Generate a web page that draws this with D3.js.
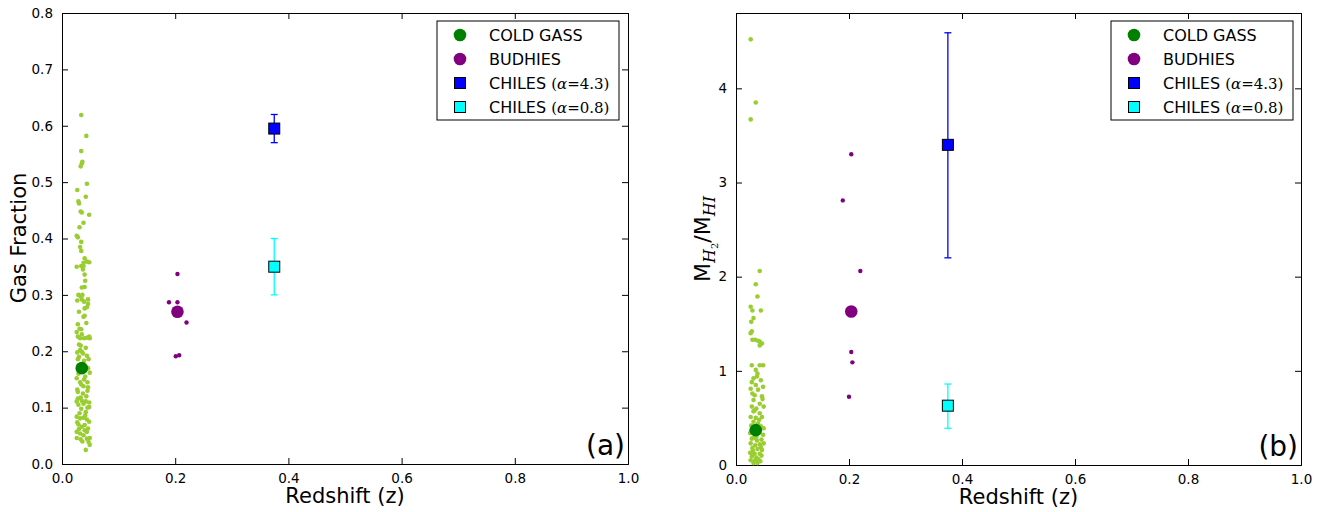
<!DOCTYPE html>
<html>
<head>
<meta charset="utf-8">
<script src="https://cdn.jsdelivr.net/npm/d3@7"></script>
<style>
  body { margin: 0; background: #fff; }
  text { font-family: "DejaVu Sans", sans-serif; }
</style>
</head>
<body>
<div id="chart"></div>
<script>
// ---- data ----
// panel (a): gas fraction vs redshift
const coldGassFrac = [[0.034,0.619],[0.043,0.582],[0.034,0.555],[0.036,0.536],[0.035,0.533],[0.033,0.528],[0.044,0.497],[0.027,0.486],[0.042,0.474],[0.029,0.466],[0.030,0.462],[0.048,0.442],[0.033,0.448],[0.035,0.446],[0.038,0.428],[0.026,0.405],[0.028,0.402],[0.034,0.394],[0.032,0.385],[0.034,0.378],[0.040,0.365],[0.026,0.350],[0.034,0.351],[0.038,0.357],[0.044,0.359],[0.048,0.358],[0.038,0.351],[0.040,0.336],[0.035,0.313],[0.040,0.314],[0.029,0.300],[0.033,0.297],[0.035,0.292],[0.039,0.288],[0.046,0.292],[0.046,0.284],[0.044,0.278],[0.040,0.276],[0.038,0.261],[0.040,0.263],[0.028,0.248],[0.034,0.239],[0.026,0.234],[0.028,0.226],[0.032,0.223],[0.039,0.223],[0.044,0.224],[0.048,0.226],[0.049,0.223],[0.033,0.210],[0.032,0.202],[0.035,0.199],[0.044,0.192],[0.028,0.186],[0.039,0.183],[0.029,0.175],[0.033,0.168],[0.049,0.162],[0.026,0.152],[0.032,0.145],[0.034,0.141],[0.038,0.138],[0.045,0.145],[0.046,0.136],[0.028,0.128],[0.028,0.116],[0.026,0.111],[0.029,0.105],[0.035,0.112],[0.038,0.107],[0.042,0.111],[0.048,0.109],[0.034,0.098],[0.042,0.092],[0.048,0.101],[0.026,0.084],[0.032,0.081],[0.038,0.082],[0.044,0.079],[0.048,0.075],[0.029,0.070],[0.035,0.066],[0.040,0.069],[0.046,0.063],[0.026,0.057],[0.032,0.054],[0.038,0.051],[0.044,0.057],[0.026,0.046],[0.033,0.044],[0.044,0.045],[0.049,0.046],[0.047,0.039],[0.049,0.034],[0.042,0.025],
  [0.030,0.190],[0.036,0.172],[0.041,0.155],[0.027,0.132],[0.037,0.125],[0.043,0.120],[0.031,0.090],[0.040,0.060],[0.036,0.040],[0.030,0.062],[0.045,0.100],[0.029,0.160],[0.037,0.196],[0.042,0.206],[0.031,0.240],[0.036,0.300],[0.041,0.325],[0.027,0.290],[0.030,0.212],[0.046,0.170],
  [0.027,0.074],[0.041,0.086],[0.033,0.118],[0.045,0.130],[0.039,0.150],[0.027,0.198],[0.047,0.186],[0.035,0.230],[0.043,0.250],[0.030,0.270],[0.037,0.345],[0.031,0.420]];
const coldGassFracMean = [0.035, 0.17];
const budhiesFrac = [[0.204,0.337],[0.189,0.287],[0.204,0.287],[0.220,0.251],[0.201,0.191],[0.207,0.193]];
const budhiesFracMean = [0.204, 0.27];
// CHILES: [z, value, low, high]
const chilesFrac43 = [0.375, 0.595, 0.57, 0.62];
const chilesFrac08 = [0.375, 0.35, 0.30, 0.40];

// panel (b): H2 / HI mass ratio vs redshift
const coldGassRatio = [[0.026,4.52],[0.035,3.85],[0.026,3.67],[0.042,2.06],[0.035,1.92],[0.038,1.79],[0.026,1.68],[0.029,1.64],[0.044,1.64],[0.031,1.56],[0.027,1.52],[0.026,1.40],[0.028,1.42],[0.029,1.33],[0.034,1.33],[0.039,1.32],[0.042,1.31],[0.046,1.29],[0.042,1.27],[0.028,1.06],[0.042,1.06],[0.048,1.06],[0.035,1.01],[0.031,0.92],[0.037,0.94],[0.028,0.88],[0.044,0.90],[0.035,0.85],[0.048,0.83],[0.026,0.81],[0.039,0.80],[0.033,0.74],[0.046,0.73],[0.031,0.69],[0.042,0.65],[0.028,0.62],[0.036,0.60],[0.049,0.62],[0.031,0.57],[0.042,0.55],[0.026,0.51],[0.035,0.50],[0.046,0.51],[0.031,0.46],[0.039,0.44],[0.027,0.42],[0.044,0.41],[0.049,0.39],[0.025,0.34],[0.033,0.32],[0.040,0.34],[0.048,0.32],[0.028,0.28],[0.045,0.27],[0.037,0.26],[0.026,0.23],[0.034,0.21],[0.042,0.22],[0.049,0.23],[0.029,0.18],[0.038,0.17],[0.046,0.16],[0.025,0.13],[0.033,0.12],[0.042,0.12],[0.028,0.09],[0.036,0.08],[0.045,0.10],[0.026,0.05],[0.034,0.05],[0.040,0.06],[0.031,0.02],[0.038,0.02],
  [0.030,0.15],[0.044,0.19],[0.036,0.30],[0.027,0.36],[0.041,0.48],[0.033,0.58],[0.047,0.70],[0.029,0.76],[0.038,0.97],[0.032,0.29],[0.043,0.04],[0.029,0.11]];
const coldGassRatioMean = [0.035, 0.37];
const budhiesRatio = [[0.204,3.30],[0.189,2.81],[0.220,2.06],[0.204,1.20],[0.206,1.09],[0.200,0.725]];
const budhiesRatioMean = [0.204, 1.63];
const chilesRatio43 = [0.375, 3.40, 2.20, 4.59];
const chilesRatio08 = [0.375, 0.63, 0.39, 0.86];

const xTicks = [0, 0.2, 0.4, 0.6, 0.8, 1.0];
const fracTicks = [0, 0.1, 0.2, 0.3, 0.4, 0.5, 0.6, 0.7, 0.8];
const ratioTicks = [0, 1, 2, 3, 4];
const legendNames = ["COLD GASS", "BUDHIES", "CHILES ", "CHILES "];
const legendMath = [null, null, "4.3", "0.8"];

const width = 1332, height = 512;
const svg = d3.select("#chart").append("svg")
  .attr("width", width).attr("height", height);
svg.append("rect").attr("width", width).attr("height", height).attr("fill", "#fff");

function drawPanel(opt) {
  const x = d3.scaleLinear().domain([0, 1]).range([opt.left, opt.right]);
  const y = d3.scaleLinear().domain(opt.yDomain).range([opt.bottom, opt.top]);
  const g = svg.append("g");

  // axes with inward ticks on all four sides
  const fmtX = d3.format(".1f");
  g.append("g").attr("transform", `translate(0,${opt.bottom})`)
    .call(d3.axisBottom(x).tickValues(xTicks).tickFormat(fmtX).tickSize(-6).tickPadding(9));
  g.append("g").attr("transform", `translate(0,${opt.top})`)
    .call(d3.axisTop(x).tickValues(xTicks).tickFormat("").tickSize(-6));
  g.append("g").attr("transform", `translate(${opt.left},0)`)
    .call(d3.axisLeft(y).tickValues(opt.yTicks).tickFormat(opt.yFormat).tickSize(-6).tickPadding(9));
  g.append("g").attr("transform", `translate(${opt.right},0)`)
    .call(d3.axisRight(y).tickValues(opt.yTicks).tickFormat("").tickSize(-6));
  g.selectAll(".domain").attr("stroke", "#000");
  g.selectAll(".tick line").attr("stroke", "#000");
  g.selectAll(".tick text").attr("font-size", 13.5).attr("font-family", "DejaVu Sans").attr("fill", "#000");

  // scatter: individual galaxies
  g.append("g").selectAll("circle").data(opt.cold).join("circle")
    .attr("cx", d => x(d[0])).attr("cy", d => y(d[1])).attr("r", 2.3)
    .attr("fill", "#9acd32");
  g.append("circle").attr("cx", x(opt.coldMean[0])).attr("cy", y(opt.coldMean[1]))
    .attr("r", 6.3).attr("fill", "#008000");
  g.append("g").selectAll("circle").data(opt.bud).join("circle")
    .attr("cx", d => x(d[0])).attr("cy", d => y(d[1])).attr("r", 2.2)
    .attr("fill", "#800080");
  g.append("circle").attr("cx", x(opt.budMean[0])).attr("cy", y(opt.budMean[1]))
    .attr("r", 6.3).attr("fill", "#800080");

  // CHILES with error bars
  [[opt.chiles43, "#0000ff"], [opt.chiles08, "#00ffff"]].forEach(([d, c]) => {
    const cx = x(d[0]);
    g.append("line").attr("x1", cx).attr("x2", cx).attr("y1", y(d[2])).attr("y2", y(d[3]))
      .attr("stroke", c).attr("stroke-width", 1.3);
    [d[2], d[3]].forEach(v => g.append("line")
      .attr("x1", cx - 3.5).attr("x2", cx + 3.5).attr("y1", y(v)).attr("y2", y(v))
      .attr("stroke", c).attr("stroke-width", 1.3));
    g.append("rect").attr("x", cx - 5.5).attr("y", y(d[1]) - 5.5)
      .attr("width", 11).attr("height", 11)
      .attr("fill", c).attr("stroke", "#000").attr("stroke-width", 1);
  });

  // legend
  const lg = g.append("g").attr("transform", `translate(${opt.legendX},${opt.top + 8})`);
  lg.append("rect").attr("width", opt.legendW).attr("height", 99)
    .attr("fill", "#fff").attr("stroke", "#000").attr("stroke-width", 1);
  const markColors = ["#008000", "#800080", "#0000ff", "#00ffff"];
  legendNames.forEach((name, i) => {
    const ry = 14 + i * 24;
    if (i < 2) {
      lg.append("circle").attr("cx", 23).attr("cy", ry).attr("r", 6.3).attr("fill", markColors[i]);
    } else {
      lg.append("rect").attr("x", 17.5).attr("y", ry - 5.5).attr("width", 11).attr("height", 11)
        .attr("fill", markColors[i]).attr("stroke", "#000");
    }
    const t = lg.append("text").attr("x", 52).attr("y", ry + 6)
      .attr("font-size", 16).attr("fill", "#000").text(name);
    if (legendMath[i]) {
      const m = t.append("tspan").attr("font-family", "DejaVu Serif").attr("font-size", 15);
      m.append("tspan").text("(");
      m.append("tspan").attr("font-style", "italic").text("α");
      m.append("tspan").text("=" + legendMath[i] + ")");
    }
  });

  // panel tag
  g.append("text").attr("x", opt.right - 3).attr("y", opt.bottom - 9)
    .attr("text-anchor", "end").attr("font-size", 28).attr("fill", "#000").text(opt.tag);

  // x label
  g.append("text").attr("x", (opt.left + opt.right) / 2).attr("y", opt.bottom + 39)
    .attr("text-anchor", "middle").attr("font-size", 21).attr("fill", "#000").text("Redshift (z)");

  return g;
}

const gA = drawPanel({
  left: 62, right: 628, top: 13, bottom: 464,
  yDomain: [0, 0.8], yTicks: fracTicks, yFormat: d3.format(".1f"),
  cold: coldGassFrac, coldMean: coldGassFracMean,
  bud: budhiesFrac, budMean: budhiesFracMean,
  chiles43: chilesFrac43, chiles08: chilesFrac08,
  legendX: 437, legendW: 182, tag: "(a)"
});
gA.append("text").attr("transform", "translate(26,238) rotate(-90)")
  .attr("text-anchor", "middle").attr("font-size", 21).attr("fill", "#000").text("Gas Fraction");

const gB = drawPanel({
  left: 736, right: 1301, top: 13, bottom: 465,
  yDomain: [0, 4.8], yTicks: ratioTicks, yFormat: d3.format("d"),
  cold: coldGassRatio, coldMean: coldGassRatioMean,
  bud: budhiesRatio, budMean: budhiesRatioMean,
  chiles43: chilesRatio43, chiles08: chilesRatio08,
  legendX: 1111, legendW: 182, tag: "(b)"
});
const yl = gB.append("text").attr("transform", "translate(710,239) rotate(-90)")
  .attr("text-anchor", "middle").attr("font-size", 22).attr("fill", "#000");
yl.append("tspan").text("M");
yl.append("tspan").attr("font-family", "DejaVu Serif").attr("font-style", "italic")
  .attr("font-size", 16).attr("dy", 5).text("H");
yl.append("tspan").attr("font-family", "DejaVu Serif").attr("font-size", 10).attr("dy", 3).text("2");
yl.append("tspan").attr("dy", -8).text("/M");
yl.append("tspan").attr("font-family", "DejaVu Serif").attr("font-style", "italic")
  .attr("font-size", 16).attr("dy", 5).text("HI");
</script>
</body>
</html>
